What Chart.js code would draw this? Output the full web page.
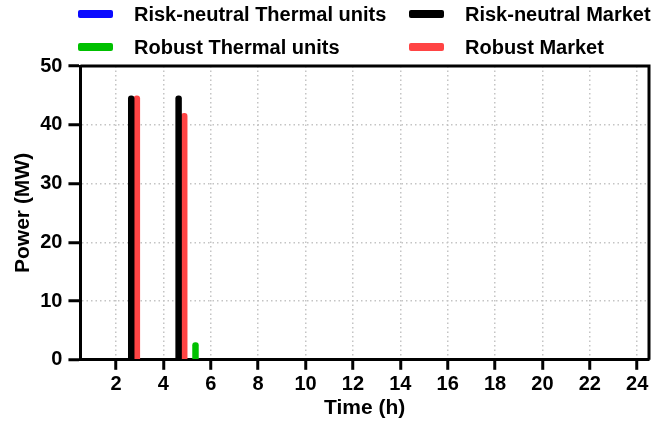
<!DOCTYPE html>
<html>
<head>
<meta charset="utf-8">
<script src="https://cdn.jsdelivr.net/npm/chart.js@4.4.1/dist/chart.umd.min.js"></script>
<style>
  body { margin: 0; background: #fff; }
  #wrap { position: relative; width: 669px; height: 424px; }
  .leg { position: absolute; font: bold 20px "Liberation Sans", Arial, sans-serif; color: #000;
         display: flex; align-items: center; white-space: nowrap; height: 24px; }
  .leg i { display: inline-block; width: 35px; height: 8px; margin-right: 21px; border-radius: 2px; }
</style>
</head>
<body>
<div id="wrap">
  <canvas id="chart" width="669" height="424"></canvas>
  <div class="leg" style="left:78px; top:2px"><i style="background:#0a0aff"></i>Risk-neutral Thermal units</div>
  <div class="leg" style="left:409px; top:2px"><i style="background:#000"></i>Risk-neutral Market</div>
  <div class="leg" style="left:78px; top:35px"><i style="background:#00c000"></i>Robust Thermal units</div>
  <div class="leg" style="left:409px; top:35px"><i style="background:#ff4444"></i>Robust Market</div>
</div>
<script>
const hours = ['1','2','3','4','5','6','7','8','9','10','11','12','13','14','15','16','17','18','19','20','21','22','23','24'];
const xTicks = ['2','4','6','8','10','12','14','16','18','20','22','24'];

const rnThermal  = [0,0,0,0,0,0,0,0,0,0,0,0,0,0,0,0,0,0,0,0,0,0,0,0];
const rnMarket   = [0,0,45,0,45,0,0,0,0,0,0,0,0,0,0,0,0,0,0,0,0,0,0,0];
const robThermal = [0,0,0,0,3,0,0,0,0,0,0,0,0,0,0,0,0,0,0,0,0,0,0,0];
const robMarket  = [0,0,45,0,42,0,0,0,0,0,0,0,0,0,0,0,0,0,0,0,0,0,0,0];

const font = { family: '"Liberation Sans", Arial, sans-serif', weight: 'bold', size: 20 };
const titleFont = { family: '"Liberation Sans", Arial, sans-serif', weight: 'bold', size: 21 };
const gridGray = '#c4c4c4';
const shown = i => xTicks.includes(hours[i]);

// top and right edges of the box
const frame = {
  id: 'frame',
  afterDatasetsDraw(c) {
    const a = c.chartArea, ctx = c.ctx;
    ctx.save();
    ctx.strokeStyle = '#000';
    ctx.lineWidth = 3;
    ctx.beginPath();
    ctx.moveTo(a.left, a.top);
    ctx.lineTo(a.right, a.top);
    ctx.lineTo(a.right, a.bottom);
    ctx.stroke();
    ctx.restore();
  }
};

const bar = { borderRadius: { topLeft: 3, topRight: 3 }, borderSkipped: 'bottom' };

new Chart(document.querySelector('#chart').getContext('2d'), {
  type: 'bar',
  data: {
    labels: hours,
    datasets: [
      { label: 'Risk-neutral Market', data: rnMarket, backgroundColor: '#000', ...bar },
      { label: 'Robust Market', data: robMarket, backgroundColor: '#ff4444', ...bar },
      { label: 'Risk-neutral Thermal units', data: rnThermal, backgroundColor: '#0a0aff', ...bar },
      { label: 'Robust Thermal units', data: robThermal, backgroundColor: '#00c000', ...bar }
    ]
  },
  options: {
    responsive: false,
    animation: false,
    categoryPercentage: 0.95,
    barPercentage: 1.15,
    layout: { padding: { top: 66, right: 20, bottom: 3, left: 11 } },
    plugins: { legend: { display: false }, tooltip: { enabled: false } },
    scales: {
      x: {
        offset: true,
        grid: {
          offset: false,
          color: c => shown(c.index) ? gridGray : 'transparent',
          lineWidth: 1.5,
          tickColor: c => shown(c.index) ? '#000' : 'transparent',
          tickLength: 10,
          tickWidth: 3
        },
        border: { color: '#000', width: 3, dash: [1.5, 3] },
        ticks: {
          color: '#000', font: font, padding: 3, maxRotation: 0, autoSkip: false,
          callback: function (v, i) { return shown(i) ? hours[i] : ''; }
        },
        title: { display: true, text: 'Time (h)', color: '#000', font: titleFont, padding: { top: -4, bottom: 0 } }
      },
      y: {
        min: 0,
        max: 50,
        grid: {
          color: c => (c.tick.value > 0 && c.tick.value < 50) ? gridGray : 'transparent',
          lineWidth: 1.5,
          tickColor: '#000',
          tickLength: 12,
          tickWidth: 3
        },
        border: { color: '#000', width: 3, dash: [1.5, 3] },
        ticks: { stepSize: 10, color: '#000', font: font, padding: 6 },
        title: { display: true, text: 'Power (MW)', color: '#000', font: titleFont, padding: { top: 0, bottom: -2 } }
      }
    }
  },
  plugins: [frame]
});
</script>
</body>
</html>
